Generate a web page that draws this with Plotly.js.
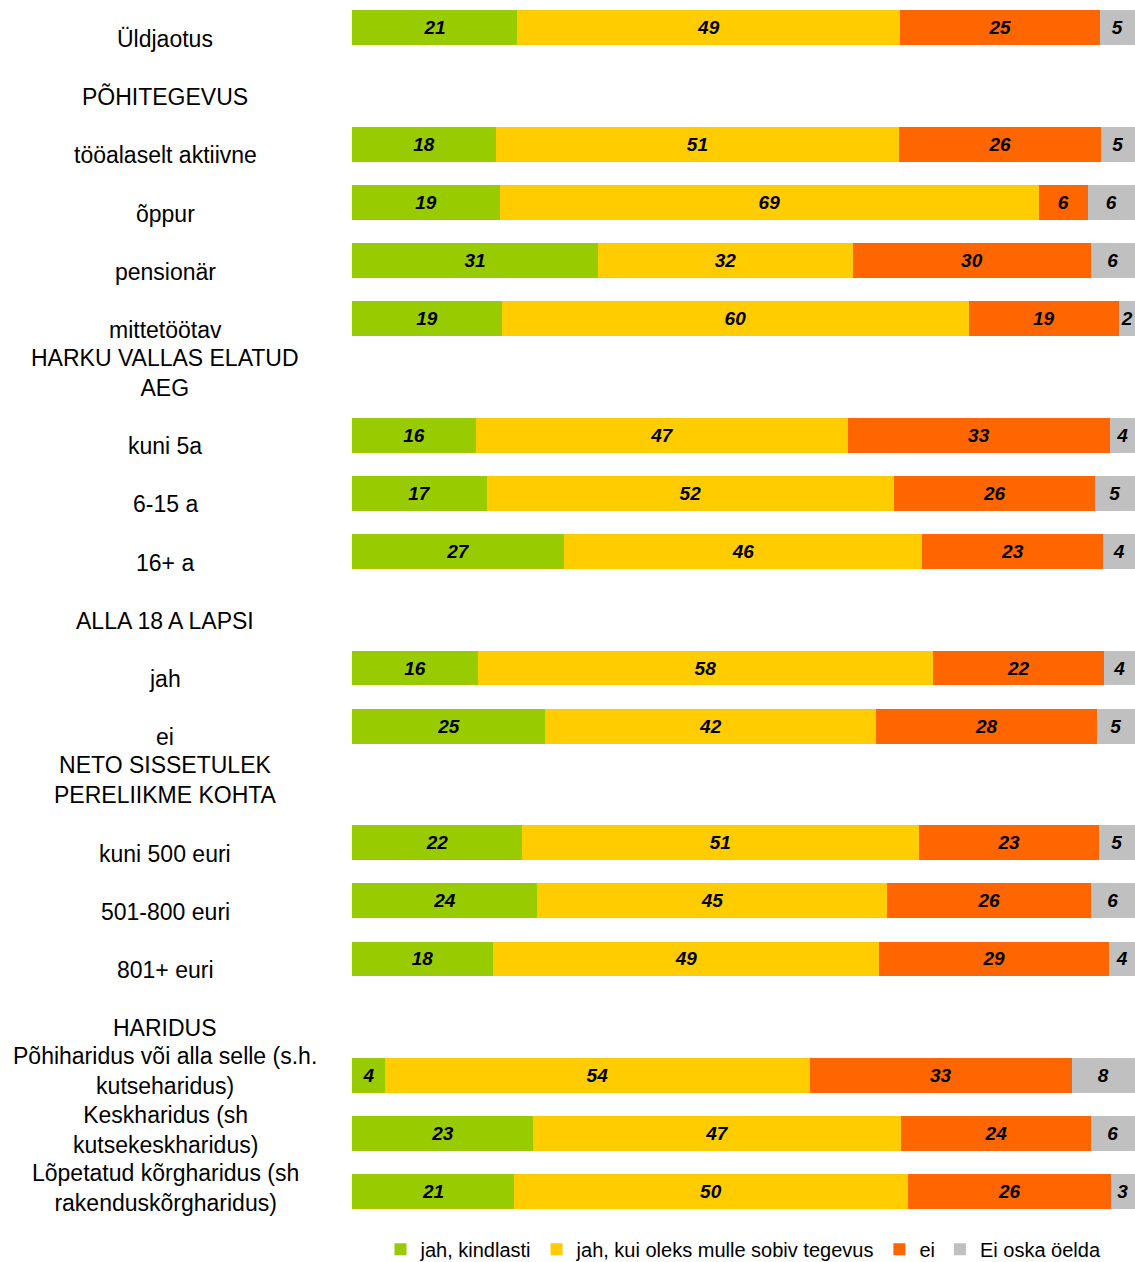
<!DOCTYPE html>
<html>
<head>
<meta charset="utf-8">
<script src="https://cdn.plot.ly/plotly-3.0.1.min.js"></script>
<style>html,body{margin:0;padding:0;background:#fff;}</style>
</head>
<body>
<div id="chart" style="width:1135px;height:1262px;"></div>
<script>
// Category rows (header rows have no bars)
const categories = [
  "Üldjaotus",
  "PÕHITEGEVUS",
  "tööalaselt aktiivne",
  "õppur",
  "pensionär",
  "mittetöötav",
  "HARKU VALLAS ELATUD<br>AEG",
  "kuni 5a",
  "6-15 a",
  "16+ a",
  "ALLA 18 A LAPSI",
  "jah",
  "ei",
  "NETO SISSETULEK<br>PERELIIKME KOHTA",
  "kuni 500 euri",
  "501-800 euri",
  "801+ euri",
  "HARIDUS",
  "Põhiharidus või alla selle (s.h.<br>kutseharidus)",
  "Keskharidus (sh<br>kutsekeskharidus)",
  "Lõpetatud kõrgharidus (sh<br>rakenduskõrgharidus)"
];

const seriesNames = ["jah, kindlasti", "jah, kui oleks mulle sobiv tegevus", "ei", "Ei oska öelda"];

// Bar shares (%)
const jahKindlasti = [21.07, null, 18.39, 18.90, 31.42, 19.16, null, 15.84, 17.24, 27.08, null, 16.09, 24.65, null, 21.71, 23.63, 18.01, null, 4.21, 23.12, 20.69];
const jahKuiSobiv  = [48.91, null, 51.47, 68.84, 32.57, 59.64, null, 47.51, 51.98, 45.72, null, 58.11, 42.27, null, 50.70, 44.70, 49.30, null, 54.28, 47.00, 50.32];
const ei           = [25.54, null, 25.80,  6.26, 30.40, 19.16, null, 33.46, 25.67, 23.12, null, 21.84, 28.22, null, 22.99, 26.05, 29.37, null, 33.46, 24.27, 25.93];
const eiOska       = [ 4.47, null,  4.34,  6.00,  5.62,  2.04, null,  3.19,  5.11,  4.09, null,  3.96,  4.85, null,  4.60,  5.62,  3.32, null,  8.05,  5.62,  3.07];

// Data labels as printed on the bars
const jahKindlastiLabel = [21, null, 18, 19, 31, 19, null, 16, 17, 27, null, 16, 25, null, 22, 24, 18, null, 4, 23, 21];
const jahKuiSobivLabel  = [49, null, 51, 69, 32, 60, null, 47, 52, 46, null, 58, 42, null, 51, 45, 49, null, 54, 47, 50];
const eiLabel           = [25, null, 26,  6, 30, 19, null, 33, 26, 23, null, 22, 28, null, 23, 26, 29, null, 33, 24, 26];
const eiOskaLabel       = [ 5, null,  5,  6,  6,  2, null,  4,  5,  4, null,  4,  5, null,  5,  6,  4, null,  8,  6,  3];

const seriesValues = [jahKindlasti, jahKuiSobiv, ei, eiOska];
const seriesLabels = [jahKindlastiLabel, jahKuiSobivLabel, eiLabel, eiOskaLabel];
const colors = ["#99CC00", "#FFCC00", "#FF6600", "#C0C0C0"];

const FONT = "Liberation Sans, Arial, sans-serif";

const traces = seriesValues.map((vals, i) => ({
  type: "bar",
  orientation: "h",
  name: seriesNames[i],
  y: categories,
  x: vals,
  text: seriesLabels[i].map(v => v === null ? "" : String(v)),
  texttemplate: "%{text}",
  textposition: "inside",
  insidetextanchor: "middle",
  textangle: 0,
  constraintext: "none",
  cliponaxis: false,
  textfont: {family: FONT, size: 19, color: "#000000", weight: "bold", style: "italic"},
  marker: {color: colors[i], line: {width: 0}},
  hoverinfo: "skip"
}));

const annotations = categories.map(c => ({
  xref: "paper", yref: "y",
  x: -0.2388, y: c,
  xanchor: "center", yanchor: "bottom",
  yshift: -26,
  text: c,
  showarrow: false,
  align: "center",
  font: {family: FONT, size: 23, color: "#000000"}
}));

const layout = {
  width: 1135,
  height: 1262,
  margin: {l: 352, r: 0, t: 0, b: 40, autoexpand: false},
  paper_bgcolor: "#ffffff",
  plot_bgcolor: "#ffffff",
  barmode: "stack",
  bargap: 0.4,
  showlegend: true,
  legend: {
    orientation: "h",
    x: 0.5, xanchor: "center",
    y: -0.0063, yanchor: "top",
    font: {family: FONT, size: 20, color: "#000000"},
    itemwidth: 30,
    traceorder: "normal"
  },
  xaxis: {
    range: [0, 100.03],
    visible: false,
    showgrid: false,
    zeroline: false,
    fixedrange: true
  },
  yaxis: {
    type: "category",
    categoryorder: "array",
    categoryarray: categories,
    range: [20.52, -0.48],
    autorange: false,
    showticklabels: false,
    showgrid: false,
    zeroline: false,
    ticks: "",
    fixedrange: true
  },
  annotations: annotations,
  hovermode: false
};

Plotly.newPlot("chart", traces, layout, {displayModeBar: false, staticPlot: true});
</script>
</body>
</html>
